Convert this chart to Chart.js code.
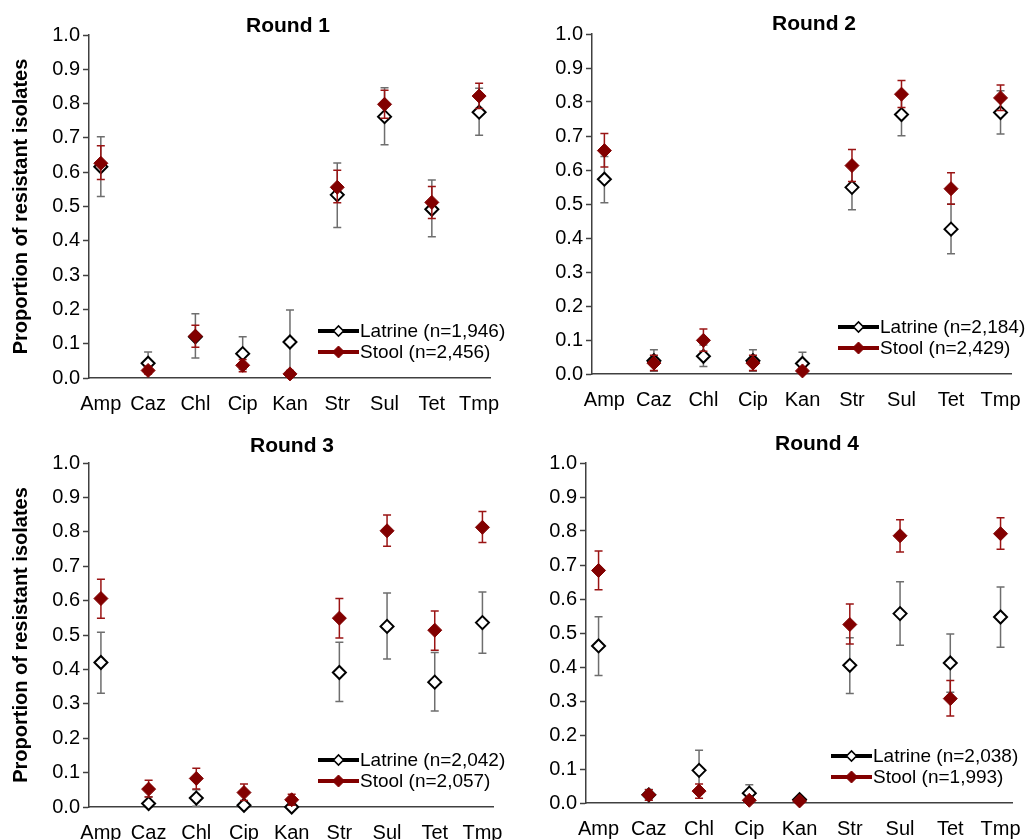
<!DOCTYPE html>
<html>
<head>
<meta charset="utf-8">
<script src="https://cdn.jsdelivr.net/npm/chart.js@4.4.1/dist/chart.umd.min.js"></script>
<style>
body { margin: 0; background: #fff; }
#wrap { position: relative; width: 1035px; height: 840px; overflow: hidden; background: #fff; }
#wrap canvas { position: absolute; }
</style>
</head>
<body>
<div id="wrap">
<canvas id="r1" width="517" height="420" style="left:0;top:0"></canvas>
<canvas id="r2" width="518" height="420" style="left:517px;top:0"></canvas>
<canvas id="r3" width="517" height="420" style="left:0;top:420px"></canvas>
<canvas id="r4" width="518" height="420" style="left:517px;top:420px"></canvas>
</div>
<script>
var categories = ['Amp', 'Caz', 'Chl', 'Cip', 'Kan', 'Str', 'Sul', 'Tet', 'Tmp'];

// Round 1
var latrine1   = [0.616, 0.043, 0.120, 0.071, 0.105, 0.534, 0.762, 0.492, 0.775];
var latrine1Lo = [0.529, 0.015, 0.058, 0.025, 0.010, 0.439, 0.680, 0.412, 0.708];
var latrine1Hi = [0.703, 0.076, 0.187, 0.120, 0.198, 0.627, 0.846, 0.577, 0.845];
var stool1     = [0.626, 0.022, 0.122, 0.037, 0.012, 0.556, 0.798, 0.512, 0.822];
var stool1Lo   = [0.579, 0.012, 0.090, 0.018, 0.004, 0.511, 0.757, 0.465, 0.786];
var stool1Hi   = [0.677, 0.034, 0.154, 0.054, 0.022, 0.606, 0.839, 0.558, 0.859];

// Round 2
var latrine2   = [0.573, 0.039, 0.052, 0.039, 0.031, 0.549, 0.763, 0.426, 0.769];
var latrine2Lo = [0.504, 0.008, 0.022, 0.008, 0.005, 0.483, 0.701, 0.354, 0.706];
var latrine2Hi = [0.640, 0.071, 0.085, 0.071, 0.064, 0.615, 0.822, 0.500, 0.833];
var stool2     = [0.657, 0.032, 0.099, 0.032, 0.009, 0.613, 0.823, 0.545, 0.812];
var stool2Lo   = [0.609, 0.010, 0.067, 0.010, 0.002, 0.566, 0.784, 0.499, 0.775];
var stool2Hi   = [0.707, 0.055, 0.132, 0.055, 0.018, 0.660, 0.863, 0.592, 0.850];

// Round 3
var latrine3   = [0.420, 0.010, 0.026, 0.005, 0.000, 0.391, 0.525, 0.363, 0.536];
var latrine3Lo = [0.331, 0.000, 0.002, 0.000, 0.000, 0.307, 0.430, 0.279, 0.447];
var latrine3Hi = [0.508, 0.030, 0.050, 0.018, 0.004, 0.479, 0.622, 0.449, 0.625];
var stool3     = [0.606, 0.052, 0.083, 0.042, 0.021, 0.549, 0.803, 0.514, 0.813];
var stool3Lo   = [0.549, 0.029, 0.052, 0.019, 0.005, 0.491, 0.758, 0.456, 0.769];
var stool3Hi   = [0.662, 0.078, 0.113, 0.067, 0.037, 0.606, 0.849, 0.570, 0.859];

// Round 4
var latrine4   = [0.462, 0.024, 0.096, 0.029, 0.010, 0.405, 0.557, 0.412, 0.547];
var latrine4Lo = [0.375, 0.008, 0.037, 0.004, 0.002, 0.322, 0.464, 0.326, 0.458];
var latrine4Hi = [0.548, 0.040, 0.155, 0.054, 0.018, 0.486, 0.651, 0.497, 0.635];
var stool4     = [0.684, 0.024, 0.035, 0.008, 0.006, 0.525, 0.786, 0.307, 0.792];
var stool4Lo   = [0.627, 0.008, 0.014, 0.002, 0.001, 0.468, 0.738, 0.256, 0.746];
var stool4Hi   = [0.741, 0.039, 0.056, 0.016, 0.012, 0.585, 0.833, 0.360, 0.839];

var roundTitles  = ['Round 1', 'Round 2', 'Round 3', 'Round 4'];
var latrineNames = ['Latrine (n=1,946)', 'Latrine (n=2,184)', 'Latrine (n=2,042)', 'Latrine (n=2,038)'];
var stoolNames   = ['Stool (n=2,456)', 'Stool (n=2,429)', 'Stool (n=2,057)', 'Stool (n=1,993)'];

var FONT = "'Liberation Sans', Arial, sans-serif";
var RED = '#820000';
var RED_ERR = '#9a1414';
var GREY_ERR = '#6e6e6e';
var AXIS = '#404040';

Chart.defaults.font.family = FONT;
Chart.defaults.color = '#000';

// panel layout (canvas coords)
var panels = [
    { id: 'r1', w: 517, h: 420, area: { l: 89, t: 35, r: 490, b: 378 }, yTitle: true,  titleX: 288, titleY: 26, legendX: 318 },
    { id: 'r2', w: 518, h: 420, area: { l: 75, t: 34, r: 501, b: 374 }, yTitle: false, titleX: 297, titleY: 24, legendX: 321 },
    { id: 'r3', w: 517, h: 420, area: { l: 89, t: 43, r: 496, b: 387 }, yTitle: true,  titleX: 292, titleY: 26, legendX: 318 },
    { id: 'r4', w: 518, h: 420, area: { l: 69, t: 43, r: 501, b: 383 }, yTitle: false, titleX: 300, titleY: 24, legendX: 314 }
];

var seriesData = [
    [latrine1, latrine1Lo, latrine1Hi, stool1, stool1Lo, stool1Hi],
    [latrine2, latrine2Lo, latrine2Hi, stool2, stool2Lo, stool2Hi],
    [latrine3, latrine3Lo, latrine3Hi, stool3, stool3Lo, stool3Hi],
    [latrine4, latrine4Lo, latrine4Hi, stool4, stool4Lo, stool4Hi]
];

function toPoints(values) {
    return values.map(function (v, i) { return { x: i + 1, y: v }; });
}

// error bars drawn just before each dataset's markers
var errorBars = {
    id: 'errorBars',
    beforeDatasetDraw: function (chart, args) {
        var ds = chart.data.datasets[args.index];
        var xs = chart.scales.x, ys = chart.scales.y;
        var ctx = chart.ctx;
        ctx.save();
        ctx.strokeStyle = ds.errColor;
        ctx.lineWidth = 1.5;
        for (var i = 0; i < ds.data.length; i++) {
            var px = xs.getPixelForValue(ds.data[i].x);
            var lo = ys.getPixelForValue(ds.errLo[i]);
            var hi = ys.getPixelForValue(ds.errHi[i]);
            ctx.beginPath();
            ctx.moveTo(px, lo); ctx.lineTo(px, hi);
            ctx.moveTo(px - 4, lo); ctx.lineTo(px + 4, lo);
            ctx.moveTo(px - 4, hi); ctx.lineTo(px + 4, hi);
            ctx.stroke();
        }
        ctx.restore();
    }
};

// title over the plot and the legend in its lower right corner
var panelDecor = {
    id: 'panelDecor',
    afterDraw: function (chart, args, opts) {
        var ctx = chart.ctx;
        var area = chart.chartArea;
        ctx.save();
        ctx.fillStyle = '#000';
        ctx.font = 'bold 21px ' + FONT;
        ctx.textAlign = 'center';
        ctx.textBaseline = 'middle';
        ctx.fillText(opts.title, opts.titleX, opts.titleY);

        var rows = [area.bottom - 47, area.bottom - 26];
        chart.data.datasets.forEach(function (ds, k) {
            var y = rows[k];
            var x0 = opts.legendX;
            var cx = x0 + 20.5;
            var r = k === 0 ? 5 : 6;
            ctx.strokeStyle = ds.lineColor;
            ctx.lineWidth = 4;
            ctx.beginPath();
            ctx.moveTo(x0, y); ctx.lineTo(x0 + 41, y);
            ctx.stroke();
            ctx.fillStyle = ds.backgroundColor;
            ctx.strokeStyle = ds.borderColor;
            ctx.lineWidth = k === 0 ? 1.6 : 1;
            ctx.beginPath();
            ctx.moveTo(cx - r, y);
            ctx.lineTo(cx, y - r);
            ctx.lineTo(cx + r, y);
            ctx.lineTo(cx, y + r);
            ctx.closePath();
            ctx.fill();
            ctx.stroke();
            ctx.fillStyle = '#000';
            ctx.font = '19px ' + FONT;
            ctx.textAlign = 'left';
            ctx.fillText(ds.label, x0 + 42, y + 1);
        });
        ctx.restore();
    }
};

function makeChart(p, n) {
    var s = seriesData[n];
    new Chart(document.getElementById(p.id), {
        type: 'scatter',
        data: {
            datasets: [{
                label: latrineNames[n],
                data: toPoints(s[0]),
                errLo: s[1],
                errHi: s[2],
                errColor: GREY_ERR,
                lineColor: '#000',
                pointStyle: 'rectRot',
                pointRadius: 6.5,
                backgroundColor: '#fff',
                borderColor: '#000',
                borderWidth: 2,
                clip: false,
                order: 2
            }, {
                label: stoolNames[n],
                data: toPoints(s[3]),
                errLo: s[4],
                errHi: s[5],
                errColor: RED_ERR,
                lineColor: RED,
                pointStyle: 'rectRot',
                pointRadius: 7,
                backgroundColor: RED,
                borderColor: RED,
                borderWidth: 1,
                clip: false,
                order: 1
            }]
        },
        options: {
            responsive: false,
            animation: false,
            events: [],
            layout: { padding: { top: p.area.t, right: p.w - p.area.r, left: 0, bottom: 0 } },
            plugins: {
                legend: { display: false },
                tooltip: { enabled: false },
                panelDecor: { title: roundTitles[n], titleX: p.titleX, titleY: p.titleY, legendX: p.legendX }
            },
            scales: {
                x: {
                    type: 'linear',
                    min: 0.75,
                    max: 9.23,
                    afterBuildTicks: function (sc) {
                        sc.ticks = categories.map(function (c, i) { return { value: i + 1 }; });
                    },
                    afterFit: function (sc) { sc.height = p.h - p.area.b; },
                    grid: { drawOnChartArea: false, drawTicks: false },
                    border: { color: AXIS, width: 1.5 },
                    ticks: {
                        padding: 14,
                        autoSkip: false,
                        maxRotation: 0,
                        color: '#000',
                        font: { size: 20 },
                        callback: function (v) { return categories[v - 1]; }
                    }
                },
                y: {
                    min: 0,
                    max: 1,
                    afterFit: function (sc) { sc.width = p.area.l; },
                    grid: { drawOnChartArea: false, tickLength: 6, tickColor: AXIS, tickWidth: 1.5 },
                    border: { color: AXIS, width: 1.5 },
                    ticks: {
                        stepSize: 0.1,
                        padding: 3,
                        color: '#000',
                        font: { size: 20 },
                        callback: function (v) { return v.toFixed(1); }
                    },
                    title: {
                        display: p.yTitle,
                        text: 'Proportion of resistant isolates',
                        color: '#000',
                        font: { size: 20, weight: 'bold' },
                        padding: { top: 9, bottom: 0 }
                    }
                }
            }
        },
        plugins: [errorBars, panelDecor]
    });
}

panels.forEach(function (p, n) { makeChart(p, n); });
</script>
</body>
</html>
